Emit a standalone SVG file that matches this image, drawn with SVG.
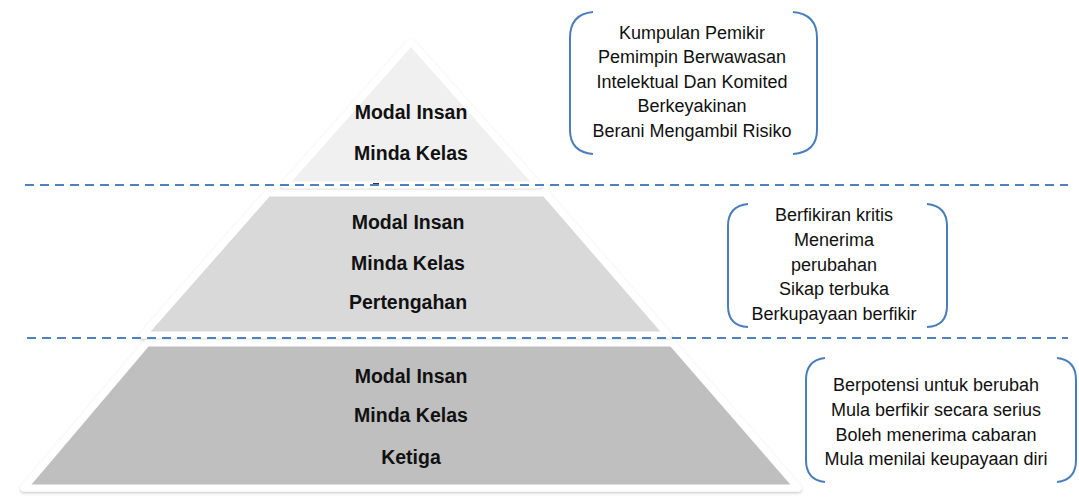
<svg xmlns="http://www.w3.org/2000/svg" width="1079" height="498" viewBox="0 0 1079 498">
<style>
.tier{stroke:#ffffff;stroke-width:7;stroke-linejoin:round;filter:url(#sh)}
.lbl{font-family:"Liberation Sans",Arial,sans-serif;font-weight:bold;font-size:19.5px;fill:#111;text-anchor:middle}
.note{font-family:"Liberation Sans",Arial,sans-serif;font-size:18px;fill:#111;text-anchor:middle}
.dash{stroke:#4f81bd;stroke-width:2;stroke-dasharray:9 6;fill:none}
.br{stroke:#4a7ebb;stroke-width:2;fill:none}
</style>
<defs>
<filter id="sh" x="-5%" y="-5%" width="110%" height="115%">
<feDropShadow dx="0" dy="1.5" stdDeviation="1.5" flood-color="#000" flood-opacity="0.22"/>
</filter>
</defs>
<rect width="1079" height="498" fill="#ffffff"/>
<g id="tier-top">
<polygon class="tier" points="411,42 284,185 538,185" fill="#f0f0f0"/>
<text class="lbl" x="411" y="119">Modal Insan</text>
<text class="lbl" x="411" y="160">Minda Kelas</text>
<rect x="373" y="183" width="6" height="1.6" fill="#333"/>
</g>
<g id="tier-middle">
<polygon class="tier" points="268,193 545,193 668,335 143,335" fill="#d9d9d9"/>
<text class="lbl" x="408" y="229">Modal Insan</text>
<text class="lbl" x="408" y="270">Minda Kelas</text>
<text class="lbl" x="408" y="309">Pertengahan</text>
</g>
<g id="tier-bottom">
<polygon class="tier" points="147,343 672,343 798,488 24,488" fill="#bfbfbf"/>
<text class="lbl" x="411" y="383">Modal Insan</text>
<text class="lbl" x="411" y="422">Minda Kelas</text>
<text class="lbl" x="411" y="464">Ketiga</text>
</g>
<g id="connectors">
<line class="dash" x1="25" y1="185" x2="1068" y2="185"/>
<line class="dash" x1="27" y1="338" x2="1068" y2="338"/>
</g>
<g id="note-top">
<path class="br" d="M593,12 Q570,14 570,38 L570,130 Q570,152 593,154"/>
<path class="br" d="M793,12 Q817,14 817,38 L817,130 Q817,152 793,154"/>
<text class="note" x="692" y="39">Kumpulan Pemikir</text>
<text class="note" x="692" y="63">Pemimpin Berwawasan</text>
<text class="note" x="692" y="88">Intelektual Dan Komited</text>
<text class="note" x="692" y="112">Berkeyakinan</text>
<text class="note" x="692" y="137">Berani Mengambil Risiko</text>
</g>
<g id="note-middle">
<path class="br" d="M748,204 Q728,206 728,226 L728,306 Q728,326 748,327"/>
<path class="br" d="M927,204 Q947,206 947,226 L947,306 Q947,326 927,327"/>
<text class="note" x="834" y="221">Berfikiran kritis</text>
<text class="note" x="834" y="246">Menerima</text>
<text class="note" x="834" y="271">perubahan</text>
<text class="note" x="834" y="295">Sikap terbuka</text>
<text class="note" x="834" y="320">Berkupayaan berfikir</text>
</g>
<g id="note-bottom">
<path class="br" d="M825,358 Q806,360 806,380 L806,460 Q806,480 825,482"/>
<path class="br" d="M1057,358 Q1076,360 1076,380 L1076,460 Q1076,480 1057,482"/>
<text class="note" x="936" y="391">Berpotensi untuk berubah</text>
<text class="note" x="936" y="416">Mula berfikir secara serius</text>
<text class="note" x="936" y="441">Boleh menerima cabaran</text>
<text class="note" x="936" y="465">Mula menilai keupayaan diri</text>
</g>
</svg>
